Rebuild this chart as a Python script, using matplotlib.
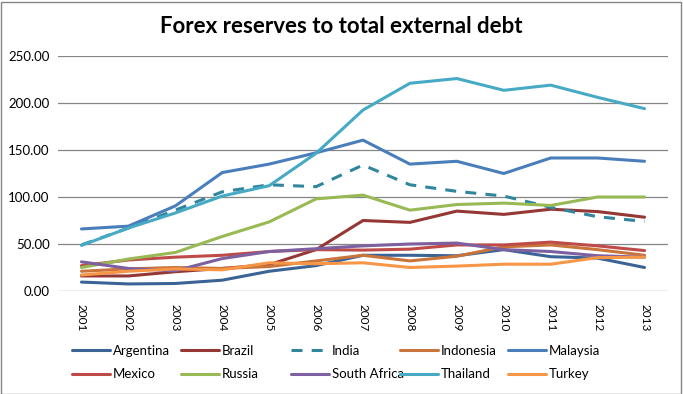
import matplotlib
matplotlib.use("Agg")
import matplotlib.pyplot as plt
from matplotlib.patches import Rectangle
from matplotlib.ticker import FormatStrFormatter

plt.rcParams["font.family"] = ["Lato", "DejaVu Sans"]

years = ["2001", "2002", "2003", "2004", "2005", "2006", "2007",
         "2008", "2009", "2010", "2011", "2012", "2013"]

argentina = [9.5, 7.5, 8, 11.5, 21, 27, 38, 38, 37.5, 44, 36.5, 35, 25]
brazil = [16, 16, 20.5, 24, 28, 44, 75, 73, 85, 81.5, 87, 84.5, 78.5]
india = [49, 67, 86, 105.5, 113, 111, 134, 113, 106, 101, 89, 79, 74]
indonesia = [21, 23.5, 25, 24, 26, 32, 38, 32, 37, 47, 49, 44, 38]
malaysia = [66, 69, 90.5, 126, 135, 147, 160.5, 135, 138, 125, 141.5, 141.5, 138]
mexico = [27, 33, 36, 38, 42, 44, 43.5, 44.5, 49, 49, 52, 48, 43]
russia = [25, 34, 41, 58, 73.5, 98, 102, 86, 92, 93.5, 91, 100, 100]
south_africa = [31, 24, 21.5, 34.5, 42, 45, 48, 50, 51, 44, 42, 37.5, 36]
thailand = [48.5, 67, 83, 101, 112, 146.5, 192.5, 221, 226, 213.5, 219, 206, 194]
turkey = [17, 21, 23.5, 22.5, 30, 29, 30, 25, 26.5, 28.5, 28.5, 35.5, 36]

series = [
    ("Argentina", argentina, "#3B6496", "-"),
    ("Brazil", brazil, "#953735", "-"),
    ("India", india, "#31859C", "--"),
    ("Indonesia", indonesia, "#C8743A", "-"),
    ("Malaysia", malaysia, "#4A7EBB", "-"),
    ("Mexico", mexico, "#BE4B48", "-"),
    ("Russia", russia, "#98B954", "-"),
    ("South Africa", south_africa, "#7D60A0", "-"),
    ("Thailand", thailand, "#46AAC5", "-"),
    ("Turkey", turkey, "#F79646", "-"),
]

W, H = 683, 394
fig = plt.figure(figsize=(W / 100, H / 100), dpi=100)
ax = fig.add_axes([58 / W, 1 - 291 / H, (668 - 58) / W, (291 - 56) / H])

x = list(range(len(years)))
handles = []
for name, vals, color, ls in series:
    if ls == "--":
        (h,) = ax.plot(x, vals, color=color, lw=2.2, dashes=(3.6, 3.0), label=name)
    else:
        (h,) = ax.plot(x, vals, color=color, lw=2.2, label=name,
                       solid_joinstyle="round", solid_capstyle="round")
    handles.append(h)

ax.set_xlim(-0.5, len(years) - 0.5)
ax.set_ylim(0, 250)
ax.set_yticks([0, 50, 100, 150, 200, 250])
ax.yaxis.set_major_formatter(FormatStrFormatter("%.2f"))
ax.set_xticks(x)
ax.set_xticklabels(years, rotation=-90, va="top", ha="center")
ax.tick_params(axis="both", length=0)
ax.tick_params(axis="y", pad=6, labelsize=9.5)
ax.tick_params(axis="x", pad=9, labelsize=8.5)
ax.grid(axis="y", color="#868686", lw=0.9)
ax.set_axisbelow(True)
for s in ax.spines.values():
    s.set_visible(False)

fig.text(341 / W, 1 - 33 / H, "Forex reserves to total external debt",
         ha="center", va="baseline", fontsize=16, fontweight="bold")

# legend: five columns, two rows, evenly spaced like Excel
col_x = [72, 181, 291, 400, 508]
for i, cx in enumerate(col_x):
    fig.legend(handles=[handles[i], handles[i + 5]],
               loc="upper left", bbox_to_anchor=(cx / W, 1 - 345 / H),
               frameon=False, fontsize=9.5, handlelength=2.9,
               handletextpad=0.2, borderpad=0, borderaxespad=0,
               labelspacing=0.85)

fig.patches.append(Rectangle((0.5 / W, 0.5 / H), (W - 2.5) / W, (H - 2) / H,
                             transform=fig.transFigure, fill=False,
                             edgecolor="#868686", lw=1))

fig.savefig("out.png", dpi=100)
